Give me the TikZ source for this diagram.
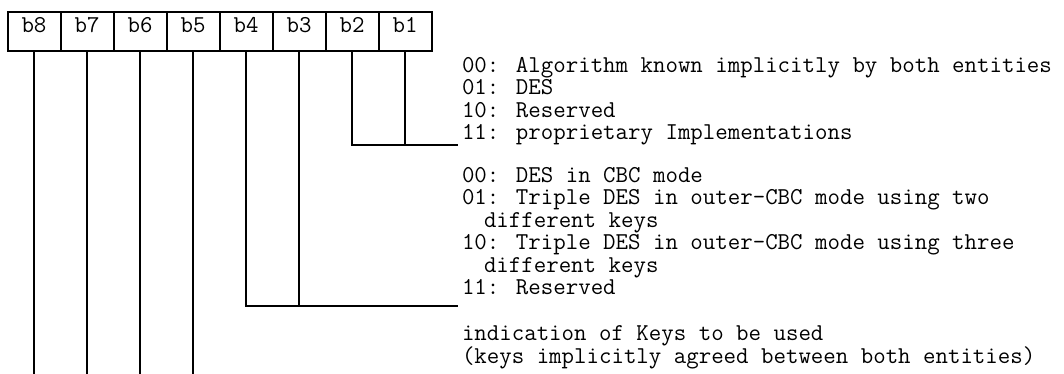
\documentclass[tikz,border=0pt]{standalone}
\usepackage{fontspec}
\newcommand\codefont{\ttfamily\fontsize{12.1}{11.25}\selectfont\lineskiplimit=-\maxdimen\relax}
\begin{document}
\begin{tikzpicture}[x=0.5pt, y=-0.5pt, line width=1pt,
    bitbox/.style={draw, minimum width=26.5pt, minimum height=19.5pt, inner sep=0pt,
      font=\codefont},
    codes/.style={anchor=north west, inner sep=0pt, align=left, font=\codefont}]
  \useasboundingbox (0,0) rectangle (1064,374);
  % the eight bits of the byte
  \foreach \b [count=\i] in {8,...,1}
    \node[bitbox] (b\b) at (34+53*\i-53, 31.5) {\raisebox{-0.5pt}[0pt][0pt]{b\b}};
  % meaning of the bit groups
  \node[codes] (algo) at (461, 56) {00: Algorithm known implicitly by both entities\\
    01: DES\\
    10: Reserved\\
    11: proprietary Implementations};
  \node[codes] (mode) at (461, 166) {00: DES in CBC mode\\
    01: Triple DES in outer-CBC mode using two\\
    \hspace*{11pt}different keys\\
    10: Triple DES in outer-CBC mode using three\\
    \hspace*{11pt}different keys\\
    11: Reserved};
  \node[codes] (keys) at (461, 325) {indication of Keys to be used\\
    (keys implicitly agreed between both entities)};
  % connectors
  \coordinate (algoend) at (458, 145);
  \coordinate (modeend) at (458, 306);
  \coordinate (bottom) at (0, 374);
  \draw (b2.south) |- (algoend);
  \draw (b1.south) -- (b1.south |- algoend);
  \draw (b4.south) |- (modeend);
  \draw (b3.south) -- (b3.south |- modeend);
  \foreach \b in {8,7,6,5}
    \draw (b\b.south) -- (b\b.south |- bottom);
\end{tikzpicture}
\end{document}
